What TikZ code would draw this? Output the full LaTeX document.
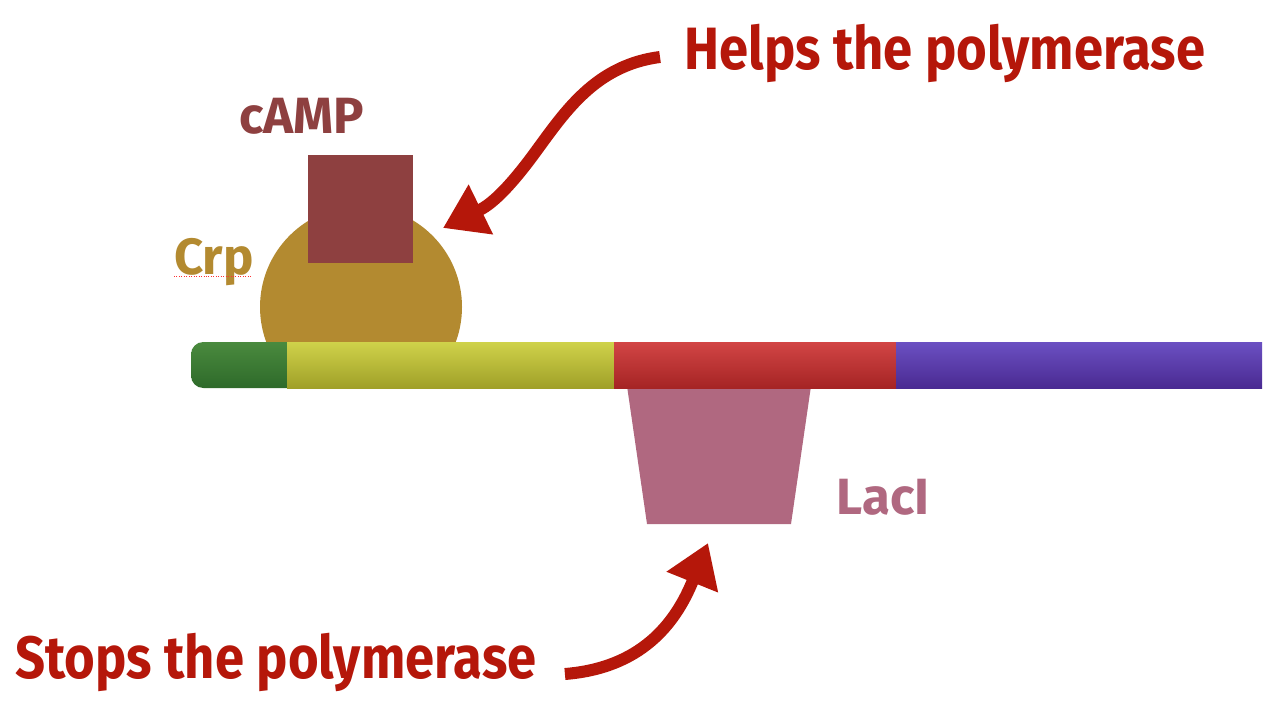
\documentclass[tikz,border=0pt]{standalone}
\usepackage{fontspec}
\setmainfont{Fira Sans}
\newfontfamily\labfont[FakeStretch=0.88]{Fira Sans}
\usetikzlibrary{arrows.meta}

\definecolor{crpcol}{HTML}{B38A30}
\definecolor{campcol}{HTML}{8E4040}
\definecolor{laccol}{HTML}{B06880}
\definecolor{notecol}{HTML}{B5170A}
\definecolor{gtop}{HTML}{4A8A3E}
\definecolor{gbot}{HTML}{2E6A2A}
\definecolor{ytop}{HTML}{CFD24A}
\definecolor{ybot}{HTML}{A0A028}
\definecolor{rtop}{HTML}{D24545}
\definecolor{rbot}{HTML}{A52424}
\definecolor{ptop}{HTML}{6B50C2}
\definecolor{pbot}{HTML}{4A2A92}

\begin{document}
\begin{tikzpicture}[x=0.02cm,y=-0.02cm]
    \tikzset{
        note/.style={font=\labfont\bfseries\fontsize{34}{40}\selectfont, text=notecol, inner sep=0pt},
        protlabel/.style={font=\bfseries\fontsize{29}{34}\selectfont, inner sep=0pt},
        bigarrow/.style={line width=12*0.02cm, draw=notecol, -{Triangle[length=24pt,width=30pt]}},
        dna/.style={shading=axis, shading angle=0}
    };
    \useasboundingbox (0,0) rectangle (1280,720);
    \pgfmathsetmacro{\top}{342}	%dna top
    \pgfmathsetmacro{\bot}{388}	%dna bottom

    % Crp dome, cut at the dna
    \begin{scope}
        \clip (200,100) rectangle (500,\top+4);
        \fill[crpcol] (361,307) circle (101);
    \end{scope}
    \fill[campcol] (308,155) rectangle (413,263);

    % LacI
    \fill[laccol] (627,\bot-2) -- (811,\bot-2) -- (791,524) -- (647,524) -- cycle;

    % dna
    \shade[dna, top color=gtop, bottom color=gbot, rounded corners=7] (191,\top) rectangle (300,\bot);
    \shade[dna, top color=ytop, bottom color=ybot] (287,\top) rectangle (614,\bot);
    \shade[dna, top color=rtop, bottom color=rbot] (614,\top) rectangle (896,\bot);
    \shade[dna, top color=ptop, bottom color=pbot] (896,\top) rectangle (1262,\bot);

    % labels
    \node[protlabel, text=campcol] (camp) at (302,116) {cAMP};
    \node[protlabel, text=crpcol] (crp) at (214,262) {Crp};
    \draw[red!80, densely dotted, thin] (174,276) -- (252,276);
    \node[protlabel, text=laccol] (laci) at (883,497) {LacI};

    \node[note, anchor=west] (helps) at (684,53) {Helps the polymerase};
    \node[note, anchor=west] (stops) at (15,662) {Stops the polymerase};

    \coordinate (crptip) at (443,228);
    \coordinate (lactip) at (708,543);
    \draw[bigarrow] (helps.west) ++(-24,4) .. controls (590,66) and (560,120) .. (528,162)
        .. controls (505,192) and (490,205) .. (crptip);
    \draw[bigarrow] (stops.east) ++(28,12) .. controls (640,668) and (675,625) .. (lactip);
\end{tikzpicture}
\end{document}
